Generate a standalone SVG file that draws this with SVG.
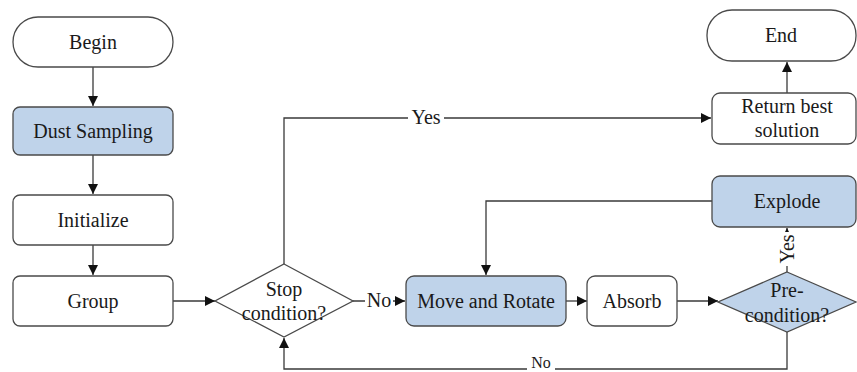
<svg xmlns="http://www.w3.org/2000/svg" width="857" height="372" viewBox="0 0 857 372">
<style>
.n{fill:#ffffff;stroke:#4a4a4a;stroke-width:1.3}
.b{fill:#bfd3ea;stroke:#4a4a4a;stroke-width:1.3}
.c{fill:none;stroke:#3a3a3a;stroke-width:1.3}
</style>
<defs>
<marker id="a" viewBox="0 0 10 10" refX="10" refY="5" markerWidth="10" markerHeight="10" markerUnits="userSpaceOnUse" orient="auto">
<path d="M0,0 L10,5 L0,10 Z" fill="#111"/>
</marker>
</defs>
<rect width="857" height="372" fill="#ffffff"/>
<g font-family="Liberation Serif, Times New Roman, serif" font-size="20" fill="#1a1a1a" text-anchor="middle">
<g id="connectors">
<line class="c" x1="93" y1="67" x2="93" y2="106" marker-end="url(#a)"/>
<line class="c" x1="93" y1="155" x2="93" y2="194" marker-end="url(#a)"/>
<line class="c" x1="93" y1="245" x2="93" y2="275" marker-end="url(#a)"/>
<line class="c" x1="173" y1="301" x2="215" y2="301" marker-end="url(#a)"/>
<polyline class="c" points="284,264 284,118 711,118" marker-end="url(#a)"/>
<line class="c" x1="353" y1="301" x2="405" y2="301" marker-end="url(#a)"/>
<line class="c" x1="566" y1="301" x2="587" y2="301" marker-end="url(#a)"/>
<line class="c" x1="677" y1="301" x2="718" y2="301" marker-end="url(#a)"/>
<line class="c" x1="787" y1="93" x2="787" y2="62" marker-end="url(#a)"/>
<line class="c" x1="787" y1="272" x2="787" y2="228" marker-end="url(#a)"/>
<polyline class="c" points="712,201 486,201 486,275" marker-end="url(#a)"/>
<polyline class="c" points="787,332 787,369 284,369 284,338" marker-end="url(#a)"/>
<rect x="408" y="108" width="36" height="20" fill="#ffffff"/>
<text x="426" y="124">Yes</text>
<rect x="365" y="291" width="28" height="20" fill="#ffffff"/>
<text x="379" y="307">No</text>
<rect x="773" y="232" width="28" height="34" fill="#ffffff"/>
<text transform="translate(794,249) rotate(-90)">Yes</text>
<rect x="527" y="358" width="28" height="14" fill="#ffffff"/>
<text x="541" y="368" font-size="16">No</text>
</g>
<g id="begin"><rect class="n" x="13" y="17" width="160" height="50" rx="25"/><text x="93" y="49">Begin</text></g>
<g id="dust"><rect class="b" x="13" y="107" width="160" height="48" rx="7"/><text x="93" y="138">Dust Sampling</text></g>
<g id="init"><rect class="n" x="13" y="195" width="160" height="50" rx="7"/><text x="93" y="227">Initialize</text></g>
<g id="group"><rect class="n" x="13" y="276" width="160" height="50" rx="7"/><text x="93" y="308">Group</text></g>
<g id="stop"><polygon class="n" points="284,264 353,301 284,337 215,301"/><text x="284" y="296">Stop</text><text x="284" y="320">condition?</text></g>
<g id="move"><rect class="b" x="406" y="276" width="160" height="50" rx="8"/><text x="486" y="308">Move and Rotate</text></g>
<g id="absorb"><rect class="n" x="587" y="276" width="90" height="50" rx="8"/><text x="632" y="308">Absorb</text></g>
<g id="pre"><polygon class="b" points="787,272 856,302 787,332 718,302"/><text x="787" y="297">Pre-</text><text x="787" y="322">condition?</text></g>
<g id="explode"><rect class="b" x="712" y="176" width="144" height="51" rx="8"/><text x="787" y="208">Explode</text></g>
<g id="return"><rect class="n" x="712" y="93" width="144" height="51" rx="8"/><text x="787" y="113">Return best</text><text x="787" y="137">solution</text></g>
<g id="end"><rect class="n" x="707" y="10" width="149" height="51" rx="25"/><text x="781" y="42">End</text></g>
</g>
</svg>
